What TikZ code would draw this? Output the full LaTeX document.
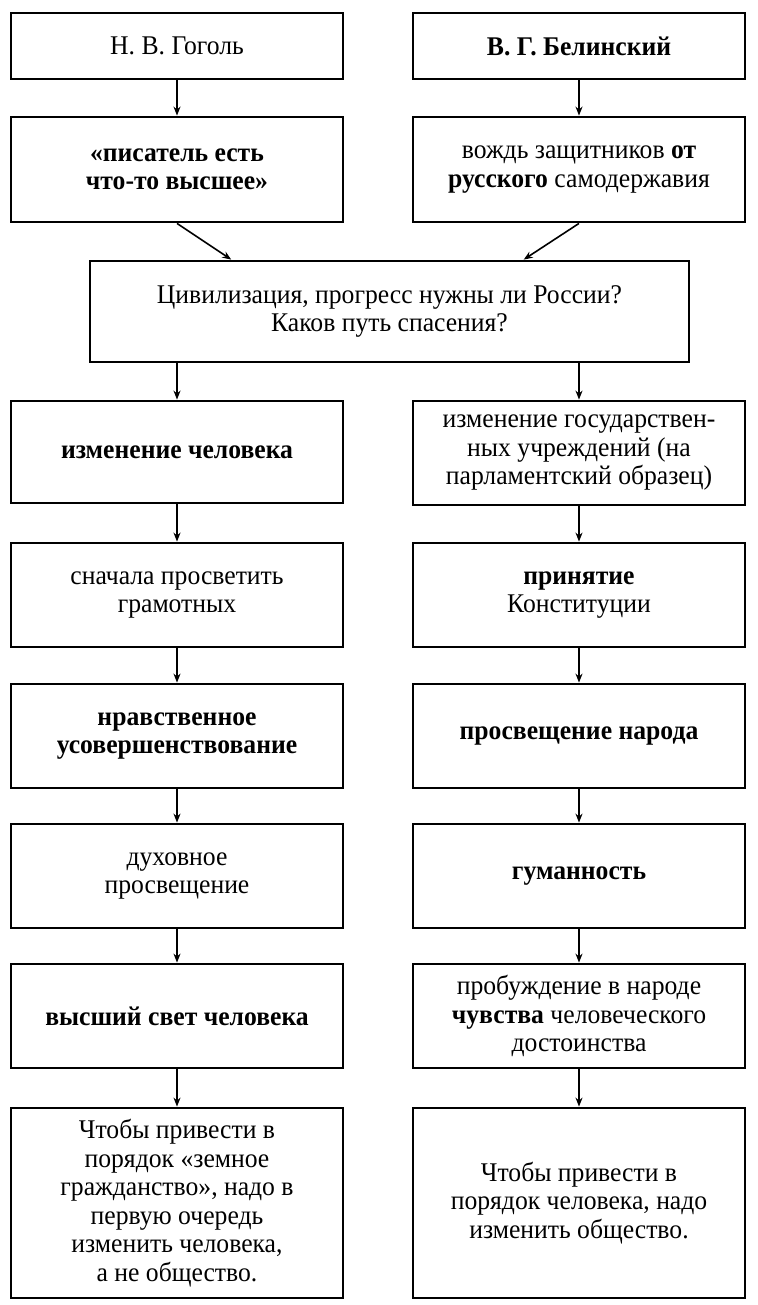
\documentclass[tikz,border=0pt]{standalone}
\usepackage{fontspec}
\setmainfont{Liberation Serif}[FakeStretch=0.95]
\usetikzlibrary{arrows.meta,calc}
\begin{document}
\begin{tikzpicture}[x=1pt,y=-1pt,
  box/.style={draw=black,line width=2.8pt,rectangle,align=center,inner sep=2pt,
    font=\fontsize{27}{28.5}\selectfont},
  lbox/.style={box,minimum width=332pt},
  arr/.style={line width=1.6pt,-{Stealth[length=9pt,width=7pt]}}]
\fill[white] (0,0) rectangle (757,1305);
\useasboundingbox (0,0) rectangle (757,1305);
% top row
\node[lbox,minimum height=66pt] (g1) at (177,46) {Н. В. Гоголь};
\node[lbox,minimum height=66pt] (b1) at (579,46) {\textbf{В. Г. Белинский}};
\node[lbox,minimum height=105pt] (g2) at (177,169.5) {\textbf{«писатель есть}\\\textbf{что-то высшее»}};
\node[lbox,minimum height=105pt] (b2) at (579,169.5) {вождь защитников \textbf{от}\\\textbf{русского} самодержавия};
\node[box,minimum width=599pt,minimum height=101pt] (c) at (389.5,311.5) {Цивилизация, прогресс нужны ли России?\\Каков путь спасения?};
% left column
\node[lbox,minimum height=102pt] (g3) at (177,452) {\textbf{изменение человека}};
\node[lbox,minimum height=104pt] (g4) at (177,595) {сначала просветить\\грамотных};
\node[lbox,minimum height=104pt] (g5) at (177,736) {\textbf{нравственное}\\\textbf{усовершенствование}};
\node[lbox,minimum height=104pt] (g6) at (177,876) {духовное\\просвещение};
\node[lbox,minimum height=104pt] (g7) at (177,1016) {\textbf{высший свет человека}};
\node[lbox,minimum height=190pt] (g8) at (177,1203) {Чтобы привести в\\порядок «земное\\гражданство», надо в\\первую очередь\\изменить человека,\\а не общество.};
% right column
\node[lbox,minimum height=104pt] (b3) at (579,453) {изменение государствен-\\ных учреждений (на\\парламентский образец)};
\node[lbox,minimum height=104pt] (b4) at (579,595) {\textbf{принятие}\\Конституции};
\node[lbox,minimum height=104pt] (b5) at (579,736) {\raisebox{6pt}{\textbf{просвещение народа}}};
\node[lbox,minimum height=104pt] (b6) at (579,876) {\textbf{гуманность}};
\node[lbox,minimum height=104pt] (b7) at (579,1016) {пробуждение в народе\\\textbf{чувства} человеческого\\достоинства};
\node[lbox,minimum height=190pt] (b8) at (579,1203) {Чтобы привести в\\порядок человека, надо\\изменить общество.};
% arrows
\draw[arr] (g1) -- (g2);
\draw[arr] (b1) -- (b2);
\draw[arr] (g2.south) -- ($(c.north west)!0.237!(c.north east)$);
\draw[arr] (b2.south) -- ($(c.north west)!0.723!(c.north east)$);
\draw[arr] (c.south -| g3.north) -- (g3.north);
\draw[arr] (c.south -| b3.north) -- (b3.north);
\draw[arr] (g3) -- (g4);
\draw[arr] (g4) -- (g5);
\draw[arr] (g5) -- (g6);
\draw[arr] (g6) -- (g7);
\draw[arr] (g7) -- (g8);
\draw[arr] (b3) -- (b4);
\draw[arr] (b4) -- (b5);
\draw[arr] (b5) -- (b6);
\draw[arr] (b6) -- (b7);
\draw[arr] (b7) -- (b8);
\end{tikzpicture}
\end{document}
